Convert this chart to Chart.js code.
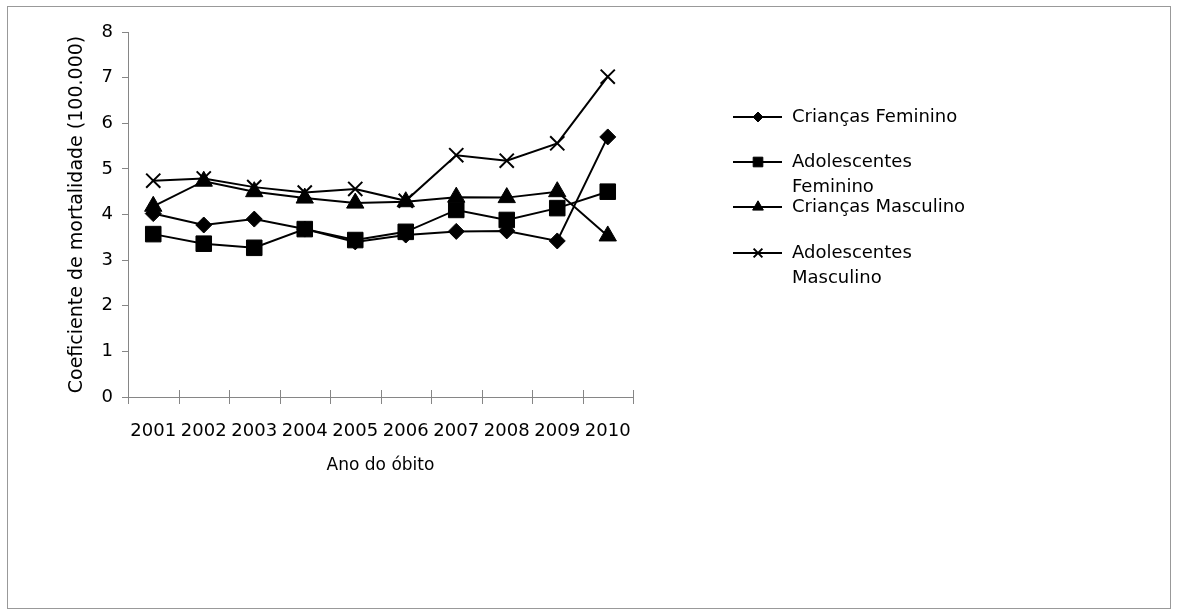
<!DOCTYPE html>
<html>
<head>
<meta charset="utf-8">
<script src="https://cdn.jsdelivr.net/npm/chart.js@4"></script>
<style>
  html, body { margin: 0; padding: 0; background: #fff; }
  #wrap { width: 1178px; height: 616px; position: relative; }
</style>
</head>
<body>
<div id="wrap"><canvas id="c" width="1178" height="616"></canvas></div>
<script>
const years = ['2001','2002','2003','2004','2005','2006','2007','2008','2009','2010'];
const criancasFeminino = [4.02, 3.77, 3.90, 3.68, 3.40, 3.55, 3.63, 3.64, 3.42, 5.70];
const adolescentesFeminino = [3.57, 3.36, 3.27, 3.68, 3.44, 3.62, 4.10, 3.88, 4.14, 4.50];
const criancasMasculino = [4.18, 4.73, 4.50, 4.36, 4.25, 4.28, 4.38, 4.37, 4.50, 3.53];
const adolescentesMasculino = [4.74, 4.79, 4.60, 4.48, 4.56, 4.30, 5.30, 5.18, 5.56, 7.02];
const seriesNames = ['Crianças Feminino', 'Adolescentes Feminino', 'Crianças Masculino', 'Adolescentes Masculino'];
const yTicks = [0, 1, 2, 3, 4, 5, 6, 7, 8];
const xTitle = 'Ano do óbito';
const yTitle = 'Coeficiente de mortalidade (100.000)';

const FONT = '"DejaVu Sans", Verdana, sans-serif';
const AXIS = '#868686';

function ds(label, data, style, radius, bw) {
  return {
    label, data,
    borderColor: '#000', backgroundColor: '#000',
    borderWidth: 2, tension: 0,
    pointStyle: style, pointRadius: radius, pointHoverRadius: radius,
    pointBackgroundColor: '#000', pointBorderColor: '#000', pointBorderWidth: bw,
    legendRadius: radius * 0.62
  };
}

const frame = {
  id: 'frame',
  beforeDraw(chart) {
    const ctx = chart.ctx;
    ctx.save();
    ctx.strokeStyle = '#999';
    ctx.lineWidth = 1;
    ctx.strokeRect(7.5, 6.5, 1163, 602);
    ctx.restore();
  }
};

const crossTicks = {
  id: 'crossTicks',
  afterDraw(chart) {
    const xs = chart.scales.x;
    const ctx = chart.ctx;
    const n = xs.ticks.length;
    const y0 = xs.top;
    ctx.save();
    ctx.strokeStyle = AXIS;
    ctx.lineWidth = 1;
    ctx.beginPath();
    for (let i = 0; i <= n; i++) {
      const x = Math.round(xs.left + i * (xs.width / n)) + 0.5;
      ctx.moveTo(x, y0 - 7);
      ctx.lineTo(x, y0 + 7);
    }
    ctx.stroke();
    ctx.restore();
  }
};

const sideLegend = {
  id: 'sideLegend',
  afterDraw(chart) {
    const ctx = chart.ctx;
    const x0 = 733, x1 = 782, xm = 758, tx = 792;
    const rowY = [117, 162, 207, 253];
    const lineH = 25;
    const maxW = 195;
    ctx.save();
    ctx.font = '18px ' + FONT;
    ctx.textBaseline = 'middle';
    ctx.fillStyle = '#000';
    chart.data.datasets.forEach((d, i) => {
      const y = rowY[i];
      ctx.strokeStyle = '#000';
      ctx.lineWidth = 2;
      ctx.beginPath();
      ctx.moveTo(x0, y); ctx.lineTo(x1, y);
      ctx.stroke();
      ctx.lineWidth = d.pointBorderWidth;
      Chart.helpers.drawPoint(ctx, { pointStyle: d.pointStyle, radius: d.legendRadius, borderWidth: d.pointBorderWidth, rotation: 0 }, xm, y);
      const words = d.label.split(' ');
      const lines = [];
      let cur = '';
      words.forEach(w => {
        const t = cur ? cur + ' ' + w : w;
        if (ctx.measureText(t).width > maxW && cur) { lines.push(cur); cur = w; } else { cur = t; }
      });
      if (cur) lines.push(cur);
      lines.forEach((l, k) => ctx.fillText(l, tx, y + k * lineH));
    });
    ctx.restore();
  }
};

new Chart(document.getElementById('c'), {
  type: 'line',
  data: {
    labels: years,
    datasets: [
      ds(seriesNames[0], criancasFeminino, 'rectRot', 8, 1),
      ds(seriesNames[1], adolescentesFeminino, 'rect', 11, 1),
      ds(seriesNames[2], criancasMasculino, 'triangle', 10, 1),
      ds(seriesNames[3], adolescentesMasculino, 'crossRot', 10, 2)
    ]
  },
  options: {
    responsive: false,
    animation: false,
    devicePixelRatio: 1,
    layout: { padding: { left: 66, top: 32, right: 545, bottom: 140 } },
    plugins: { legend: { display: false }, tooltip: { enabled: false } },
    scales: {
      x: {
        type: 'category',
        offset: true,
        grid: { display: false, drawTicks: false },
        border: { display: true, color: AXIS, width: 1 },
        ticks: { color: '#000', font: { family: FONT, size: 18 }, padding: 24, maxRotation: 0, autoSkip: false },
        title: { display: true, text: xTitle, color: '#000', font: { family: FONT, size: 17 }, padding: 0 },
        afterFit(s) { s.height = 79; }
      },
      y: {
        min: 0, max: 8,
        afterBuildTicks(s) { s.ticks = yTicks.map(v => ({ value: v })); },
        grid: { display: true, drawOnChartArea: false, drawTicks: true, tickLength: 6, color: AXIS },
        border: { display: true, color: AXIS, width: 1 },
        ticks: { color: '#000', font: { family: FONT, size: 18 }, padding: 9 },
        title: { display: true, text: yTitle, color: '#000', font: { family: FONT, size: 19 }, padding: 0 },
        afterFit(s) { s.width = 62; }
      }
    }
  },
  plugins: [frame, crossTicks, sideLegend]
});
</script>
</body>
</html>
